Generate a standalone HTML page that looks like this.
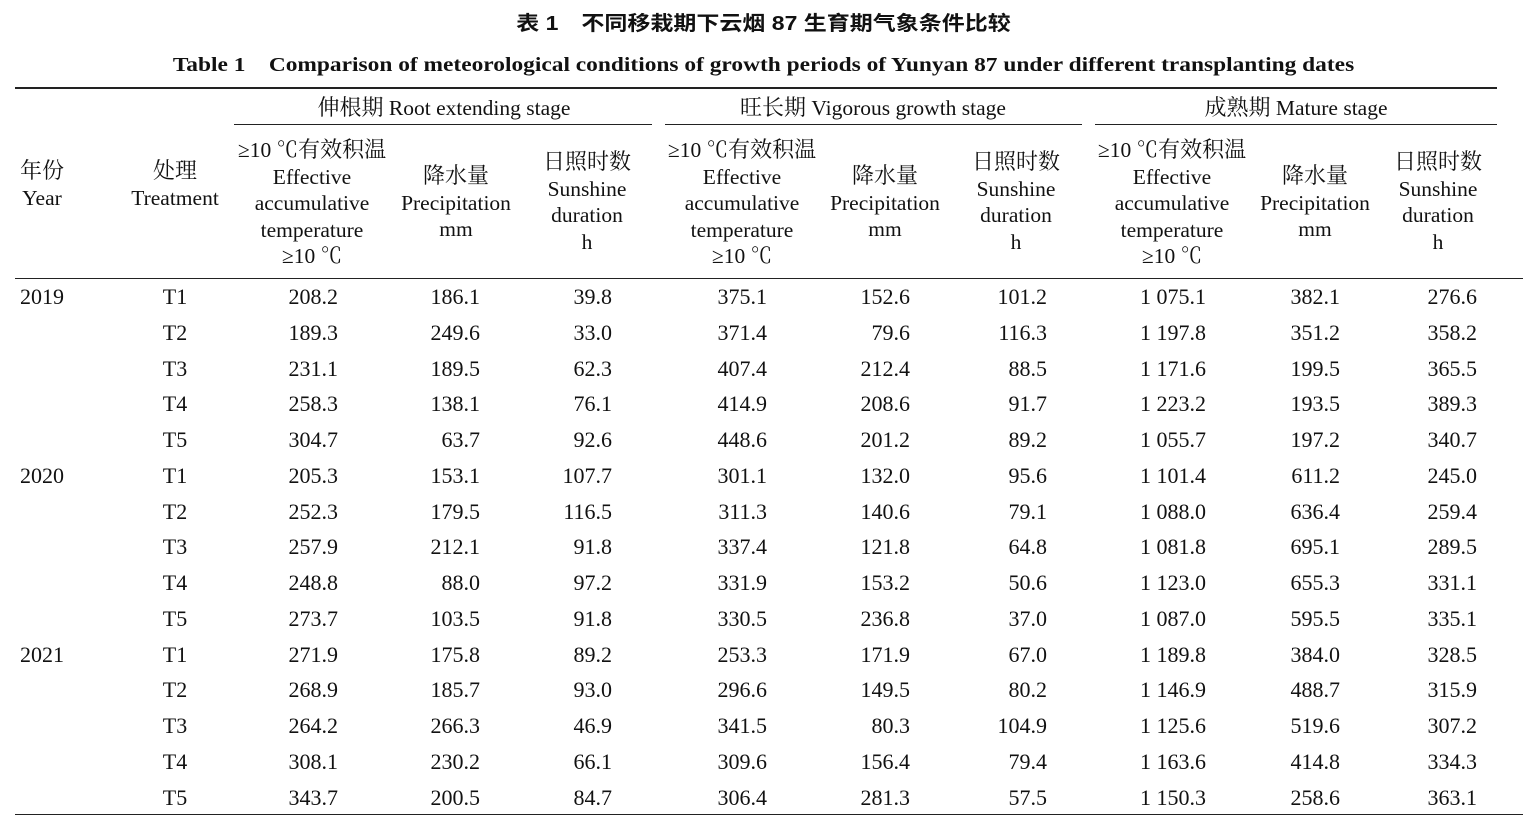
<!DOCTYPE html>
<html><head><meta charset="utf-8"><style>
body{margin:0;width:1527px;height:816px;background:#fff;position:relative;overflow:hidden;font-family:"Liberation Serif","Noto Serif CJK SC",serif;color:#111}
div{position:absolute;white-space:nowrap}
.t{left:0;width:1527px;text-align:center;font-weight:bold}
.r{height:0;border-top:1px solid #222}
.c{text-align:center;transform:translateX(-50%);font-size:21.5px;line-height:26.5px}
.n{font-size:22px;text-align:right;transform:translate(-100%,-50%)}
.cj{font-family:"Noto Serif CJK SC","Noto Sans CJK SC",serif;font-size:22px}
</style></head><body>
<div class="t" style="top:7px;font-size:20px;font-family:'Liberation Sans','Noto Sans CJK SC',sans-serif;transform:scaleX(1.15)">表 1　不同移栽期下云烟 87 生育期气象条件比较</div>
<div class="t" style="top:48px;font-size:20px;transform:scaleX(1.17)">Table 1　Comparison of meteorological conditions of growth periods of Yunyan 87 under different transplanting dates</div>
<div class="r" style="left:15px;width:1482px;top:87px;border-top-width:2px"></div>
<div class="r" style="left:234px;width:418px;top:124px"></div>
<div class="r" style="left:665px;width:417px;top:124px"></div>
<div class="r" style="left:1095px;width:402px;top:124px"></div>
<div class="r" style="left:15px;width:1508px;top:278px"></div>
<div class="r" style="left:15px;width:1508px;top:814px"></div>
<div class="c" style="left:444px;top:94px"><span class="cj">伸根期</span> Root extending stage</div>
<div class="c" style="left:873px;top:94px"><span class="cj">旺长期</span> Vigorous growth stage</div>
<div class="c" style="left:1296px;top:94px"><span class="cj">成熟期</span> Mature stage</div>
<div class="c" style="left:42px;top:157px"><span class="cj">年份</span><br>Year</div>
<div class="c" style="left:175px;top:157px"><span class="cj">处理</span><br>Treatment</div>
<div class="c" style="left:312px;top:136px">≥10 ℃<span class="cj">有效积温</span><br>Effective<br>accumulative<br>temperature<br>≥10 ℃</div>
<div class="c" style="left:456px;top:162px"><span class="cj">降水量</span><br>Precipitation<br>mm</div>
<div class="c" style="left:587px;top:148px"><span class="cj">日照时数</span><br>Sunshine<br>duration<br>h</div>
<div class="c" style="left:742px;top:136px">≥10 ℃<span class="cj">有效积温</span><br>Effective<br>accumulative<br>temperature<br>≥10 ℃</div>
<div class="c" style="left:885px;top:162px"><span class="cj">降水量</span><br>Precipitation<br>mm</div>
<div class="c" style="left:1016px;top:148px"><span class="cj">日照时数</span><br>Sunshine<br>duration<br>h</div>
<div class="c" style="left:1172px;top:136px">≥10 ℃<span class="cj">有效积温</span><br>Effective<br>accumulative<br>temperature<br>≥10 ℃</div>
<div class="c" style="left:1315px;top:162px"><span class="cj">降水量</span><br>Precipitation<br>mm</div>
<div class="c" style="left:1438px;top:148px"><span class="cj">日照时数</span><br>Sunshine<br>duration<br>h</div>
<div id="rows"></div>
<script>
var d=[["2019","T1","208.2","186.1","39.8","375.1","152.6","101.2","1 075.1","382.1","276.6"],
["","T2","189.3","249.6","33.0","371.4","79.6","116.3","1 197.8","351.2","358.2"],
["","T3","231.1","189.5","62.3","407.4","212.4","88.5","1 171.6","199.5","365.5"],
["","T4","258.3","138.1","76.1","414.9","208.6","91.7","1 223.2","193.5","389.3"],
["","T5","304.7","63.7","92.6","448.6","201.2","89.2","1 055.7","197.2","340.7"],
["2020","T1","205.3","153.1","107.7","301.1","132.0","95.6","1 101.4","611.2","245.0"],
["","T2","252.3","179.5","116.5","311.3","140.6","79.1","1 088.0","636.4","259.4"],
["","T3","257.9","212.1","91.8","337.4","121.8","64.8","1 081.8","695.1","289.5"],
["","T4","248.8","88.0","97.2","331.9","153.2","50.6","1 123.0","655.3","331.1"],
["","T5","273.7","103.5","91.8","330.5","236.8","37.0","1 087.0","595.5","335.1"],
["2021","T1","271.9","175.8","89.2","253.3","171.9","67.0","1 189.8","384.0","328.5"],
["","T2","268.9","185.7","93.0","296.6","149.5","80.2","1 146.9","488.7","315.9"],
["","T3","264.2","266.3","46.9","341.5","80.3","104.9","1 125.6","519.6","307.2"],
["","T4","308.1","230.2","66.1","309.6","156.4","79.4","1 163.6","414.8","334.3"],
["","T5","343.7","200.5","84.7","306.4","281.3","57.5","1 150.3","258.6","363.1"]];
var R=[0,0,338,480,612,767,910,1047,1206,1340,1477],h="";
d.forEach(function(r,i){var y=297+i*35.75;
h+='<div style="left:20px;top:'+y+'px;font-size:22px;transform:translateY(-50%)">'+r[0]+'</div>';
h+='<div style="left:175px;top:'+y+'px;font-size:22px;transform:translate(-50%,-50%)">'+r[1]+'</div>';
for(var j=2;j<11;j++)h+='<div class="n" style="left:'+R[j]+'px;top:'+y+'px">'+r[j]+'</div>';});
document.getElementById("rows").outerHTML=h;
</script>
</body></html>
